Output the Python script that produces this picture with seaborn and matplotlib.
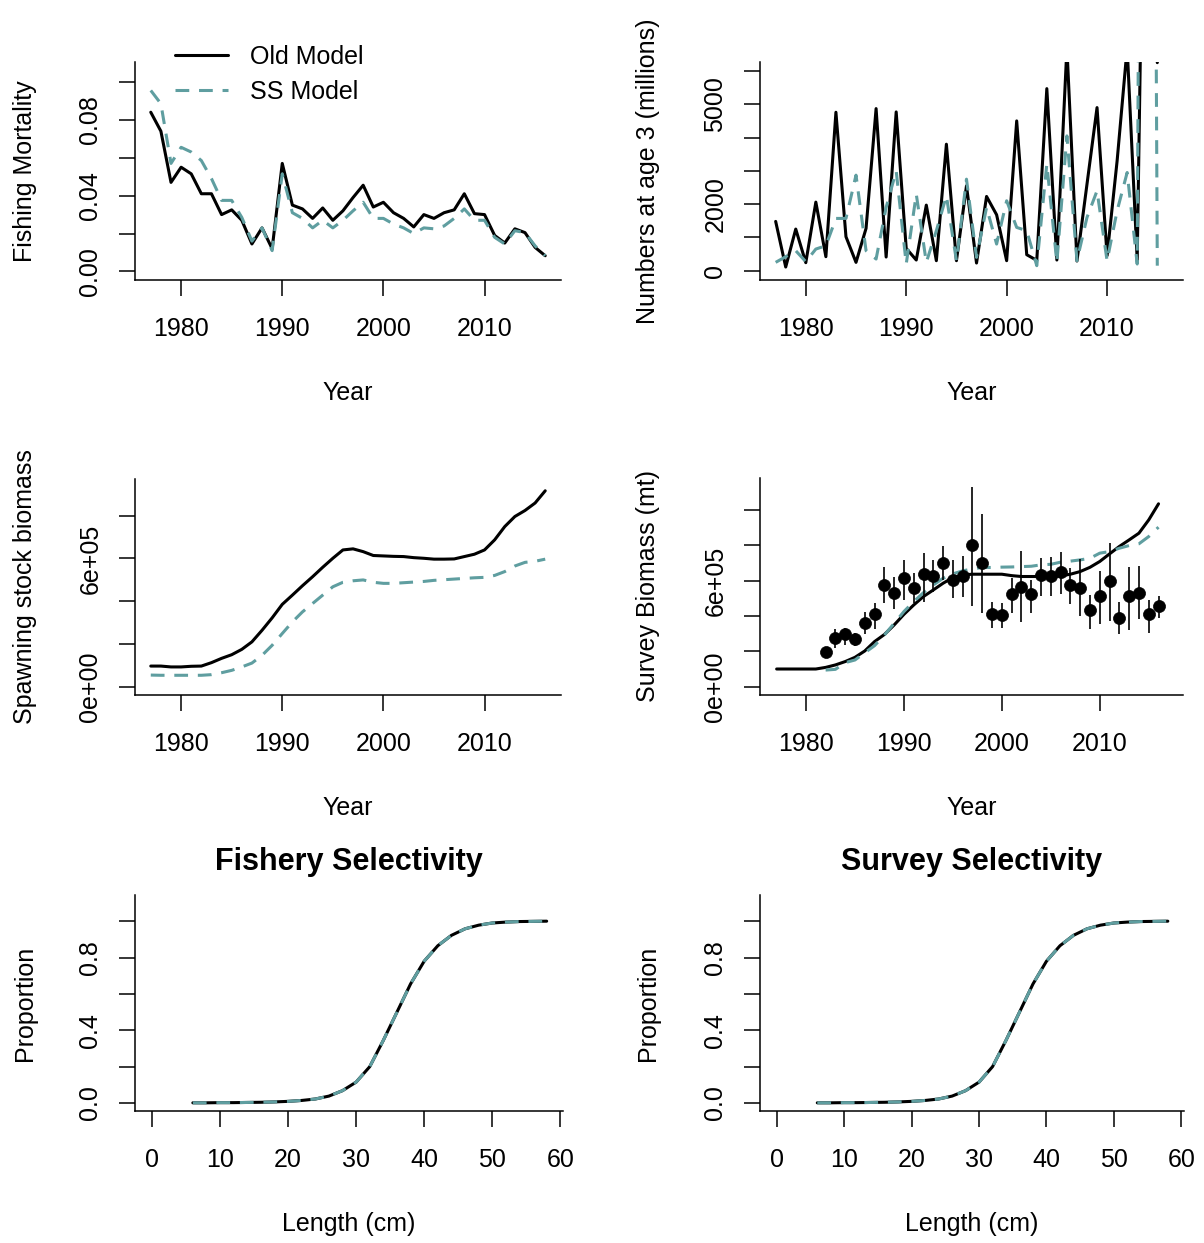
import matplotlib
matplotlib.use('Agg')
import matplotlib.pyplot as plt
from matplotlib.lines import Line2D
import seaborn as sns
import pandas as pd

sns.set_style('white')
plt.rcParams['font.family'] = ['Liberation Sans', 'DejaVu Sans']
plt.rcParams['text.color'] = 'black'
plt.rcParams['axes.labelcolor'] = 'black'
plt.rcParams['xtick.color'] = 'black'
plt.rcParams['ytick.color'] = 'black'

TEAL = '#5F9EA0'
FS = 18

# ---- data ----
years = list(range(1977, 2017))

f_old = [0.084, 0.074, 0.047, 0.055, 0.0515, 0.041, 0.041, 0.030, 0.0325, 0.027,
         0.0145, 0.023, 0.012, 0.057, 0.035, 0.033, 0.028, 0.0335, 0.027, 0.032,
         0.039, 0.0455, 0.034, 0.0365, 0.031, 0.028, 0.0235, 0.030, 0.028, 0.031,
         0.0325, 0.041, 0.0305, 0.030, 0.019, 0.015, 0.0225, 0.0205, 0.0127, 0.0083]
f_ss = [0.0955, 0.0885, 0.057, 0.0655, 0.063, 0.0585, 0.049, 0.0375, 0.0375, 0.0285,
        0.016, 0.023, 0.011, 0.0515, 0.031, 0.028, 0.023, 0.027, 0.023, 0.027,
        0.032, 0.0365, 0.028, 0.028, 0.025, 0.023, 0.020, 0.023, 0.0225, 0.024,
        0.028, 0.033, 0.027, 0.027, 0.018, 0.0145, 0.0215, 0.0205, 0.0135, 0.0083]

age3_old = [1480, 110, 1250, 240, 2060, 420, 4760, 1020, 250, 1270,
            4870, 410, 4770, 670, 320, 1970, 300, 3800, 300, 2550,
            230, 2230, 1680, 300, 4500, 480, 310, 5470, 320, 6700,
            290, 2600, 4900, 450, 3300, 6700, 310, 20000, 6250, 9000]
age3_ss_years = list(range(1977, 2016))
age3_ss = [250, 420, 600, 270, 650, 750, 1570, 1570, 2870, 600,
           350, 1900, 3000, 200, 2300, 250, 1200, 2250, 300, 2750,
           400, 1900, 800, 2100, 1300, 1200, 150, 3200, 250, 4050,
           300, 1600, 2400, 300, 1800, 2950, 200, 60000, 150]

ssb_old = [98e3, 98e3, 94e3, 94e3, 97e3, 98e3, 114e3, 134e3, 151e3, 176e3,
           211e3, 265e3, 323e3, 386e3, 429e3, 473e3, 515e3, 559e3, 601e3, 640e3,
           645e3, 632e3, 614e3, 612e3, 610e3, 609e3, 604e3, 601e3, 597e3, 597e3,
           598e3, 609e3, 620e3, 640e3, 687e3, 749e3, 796e3, 824e3, 859e3, 916e3]
ssb_ss = [56e3, 55e3, 55e3, 55e3, 55e3, 55e3, 58e3, 67e3, 78e3, 94e3,
          112e3, 148e3, 195e3, 250e3, 304e3, 351e3, 390e3, 429e3, 468e3, 489e3,
          496e3, 500e3, 489e3, 484e3, 484e3, 487e3, 490e3, 493e3, 498e3, 501e3,
          504e3, 507e3, 510e3, 512e3, 521e3, 539e3, 565e3, 582e3, 587e3, 597e3]

surv_old = [100e3, 100e3, 100e3, 100e3, 100e3, 109e3, 123e3, 142e3, 166e3, 202e3,
            255e3, 295e3, 349e3, 409e3, 462e3, 510e3, 547e3, 585e3, 617e3, 632e3,
            636e3, 636e3, 636e3, 636e3, 628e3, 623e3, 623e3, 623e3, 624e3, 626e3,
            636e3, 651e3, 675e3, 708e3, 751e3, 793e3, 830e3, 868e3, 943e3, 1034e3]
surv_years = list(range(1982, 2017))
surv_ss = [94e3, 98e3, 136e3, 151e3, 192e3, 232e3, 292e3, 358e3, 425e3, 481e3,
           532e3, 575e3, 613e3, 638e3, 655e3, 666e3, 674e3, 674e3, 676e3, 677e3,
           679e3, 681e3, 689e3, 692e3, 704e3, 710e3, 717e3, 726e3, 755e3, 764e3,
           783e3, 798e3, 808e3, 849e3, 902e3]
surv_obs = [198e3, 274e3, 298e3, 268e3, 362e3, 411e3, 575e3, 532e3, 613e3, 557e3,
            638e3, 626e3, 702e3, 604e3, 626e3, 802e3, 702e3, 411e3, 406e3, 525e3,
            566e3, 525e3, 632e3, 626e3, 651e3, 575e3, 557e3, 434e3, 510e3, 600e3,
            391e3, 510e3, 532e3, 409e3, 457e3]
surv_lo = [180e3, 217e3, 236e3, 230e3, 298e3, 325e3, 472e3, 438e3, 490e3, 472e3,
           481e3, 538e3, 604e3, 500e3, 509e3, 457e3, 415e3, 330e3, 330e3, 415e3,
           364e3, 415e3, 515e3, 513e3, 525e3, 468e3, 400e3, 325e3, 355e3, 374e3,
           298e3, 321e3, 383e3, 306e3, 391e3]
surv_hi = [215e3, 325e3, 330e3, 306e3, 425e3, 472e3, 675e3, 623e3, 717e3, 642e3,
           758e3, 717e3, 796e3, 717e3, 740e3, 1128e3, 977e3, 481e3, 472e3, 613e3,
           768e3, 604e3, 730e3, 732e3, 759e3, 670e3, 721e3, 519e3, 655e3, 811e3,
           481e3, 675e3, 683e3, 490e3, 513e3]

lengths = [6, 8, 10, 12, 14, 16, 18, 20, 22, 24, 26, 28, 30, 32, 34, 36, 38, 40,
           42, 44, 46, 48, 50, 52, 54, 56, 58]
fish_sel = [0.001, 0.001, 0.002, 0.002, 0.003, 0.004, 0.006, 0.009, 0.014, 0.022,
            0.038, 0.068, 0.115, 0.20, 0.345, 0.50, 0.655, 0.78, 0.865, 0.922,
            0.958, 0.978, 0.99, 0.995, 0.998, 0.999, 1.0]
surv_sel = [0.001, 0.001, 0.002, 0.002, 0.003, 0.004, 0.006, 0.009, 0.014, 0.022,
            0.038, 0.068, 0.115, 0.20, 0.345, 0.50, 0.655, 0.78, 0.865, 0.922,
            0.958, 0.978, 0.99, 0.995, 0.998, 0.999, 1.0]

# ---- layout (pixel boxes of each plot region) ----
W, H = 1204, 1243
fig = plt.figure(figsize=(W / 100, H / 100), dpi=100)


def add_ax(l, r, t, b):
    return fig.add_axes([l / W, 1 - b / H, (r - l) / W, (b - t) / H])


def two_models(ax, x_old, y_old, x_ss, y_ss):
    df = pd.concat([
        pd.DataFrame({'x': x_old, 'y': y_old, 'model': 'Old Model'}),
        pd.DataFrame({'x': x_ss, 'y': y_ss, 'model': 'SS Model'}),
    ])
    sns.lineplot(data=df, x='x', y='y', hue='model', style='model',
                 palette={'Old Model': 'black', 'SS Model': TEAL},
                 dashes={'Old Model': '', 'SS Model': (4.5, 3.2)},
                 estimator=None, sort=False, linewidth=2.2, legend=False, ax=ax)


def style(ax, xlim, ylim, xticks, yticks, ylabs, xlabel, ylabel, ylab_off):
    ax.set_xlim(xlim)
    ax.set_ylim(ylim)
    for s in ['top', 'right']:
        ax.spines[s].set_visible(False)
    for s in ['left', 'bottom']:
        ax.spines[s].set_linewidth(1.1)
        ax.spines[s].set_color('black')
    ax.set_xticks(xticks)
    ax.set_yticks(yticks)
    ax.set_yticklabels(ylabs)
    ax.tick_params(direction='out', length=11.5, width=1.1, labelsize=FS,
                   color='black', left=True, bottom=True)
    ax.tick_params(axis='x', pad=15)
    ax.tick_params(axis='y', pad=12)
    for t in ax.get_yticklabels():
        t.set_rotation(90)
        t.set_va('center')
    h = ax.get_position().height * H
    w = ax.get_position().width * W
    ax.set_xlabel(xlabel, fontsize=FS)
    ax.set_ylabel(ylabel, fontsize=FS)
    ax.xaxis.set_label_coords(0.5, -113 / h)
    ax.xaxis.label.set_va('center')
    ax.yaxis.set_label_coords(-ylab_off / w, 0.5)
    ax.yaxis.label.set_va('center')


year_ticks = [1980, 1990, 2000, 2010]
yr_lim = (1975.44, 2017.56)

# Fishing mortality
ax1 = add_ax(135, 561, 62, 280)
two_models(ax1, years, f_old, years, f_ss)
style(ax1, yr_lim, (-0.0045, 0.1105), year_ticks,
      [0, 0.02, 0.04, 0.06, 0.08, 0.10], ['0.00', '', '0.04', '', '0.08', ''],
      'Year', 'Fishing Mortality', 110)
handles = [Line2D([], [], color='black', lw=2.2),
           Line2D([], [], color=TEAL, lw=2.2, dashes=(4.5, 3.2))]
ax1.legend(handles, ['Old Model', 'SS Model'], loc='upper left',
           bbox_to_anchor=(0.094, 1.08), frameon=False, fontsize=FS,
           handlelength=2.1, handletextpad=0.9, labelspacing=0.45,
           borderpad=0, borderaxespad=0)

# Numbers at age 3
ax2 = add_ax(760, 1183, 62, 280)
two_models(ax2, years, age3_old, age3_ss_years, age3_ss)
style(ax2, yr_lim, (-280, 6270), year_ticks,
      [0, 1000, 2000, 3000, 4000, 5000, 6000], ['0', '', '2000', '', '', '5000', ''],
      'Year', 'Numbers at age 3 (millions)', 112)

# Spawning stock biomass
ax3 = add_ax(135, 561, 479, 695)
two_models(ax3, years, ssb_old, years, ssb_ss)
style(ax3, yr_lim, (-37e3, 971e3), year_ticks,
      [0, 2e5, 4e5, 6e5, 8e5], ['0e+00', '', '', '6e+05', ''],
      'Year', 'Spawning stock biomass', 110)

# Survey biomass
ax4 = add_ax(760, 1183, 478, 695)
ax4.vlines(surv_years, surv_lo, surv_hi, color='black', lw=1.2, zorder=3)
sns.scatterplot(x=surv_years, y=surv_obs, color='black', s=75, marker='o',
                edgecolor='black', linewidth=0.5, zorder=4, ax=ax4)
two_models(ax4, years, surv_old, surv_years, surv_ss)
style(ax4, (1975.3, 2018.5), (-47e3, 1.18e6), year_ticks,
      [0, 2e5, 4e5, 6e5, 8e5, 1e6], ['0e+00', '', '', '6e+05', '', ''],
      'Year', 'Survey Biomass (mt)', 112)

# Selectivity panels
for box, sel, title in [((135, 563, 895, 1111), fish_sel, 'Fishery Selectivity'),
                        ((760, 1184, 895, 1111), surv_sel, 'Survey Selectivity')]:
    ax = add_ax(*box)
    two_models(ax, lengths, sel, lengths, sel)
    style(ax, (-2.5, 60.4), (-0.044, 1.144), [0, 10, 20, 30, 40, 50, 60],
          [0, 0.2, 0.4, 0.6, 0.8, 1.0], ['0.0', '', '0.4', '', '0.8', ''],
          'Length (cm)', 'Proportion', 110 if box[0] < 300 else 112)
    ax.text(0.5, 1 + 33 / 216, title, transform=ax.transAxes, ha='center',
            va='center', fontsize=22, fontweight='bold')

fig.savefig('out.png', dpi=100)
